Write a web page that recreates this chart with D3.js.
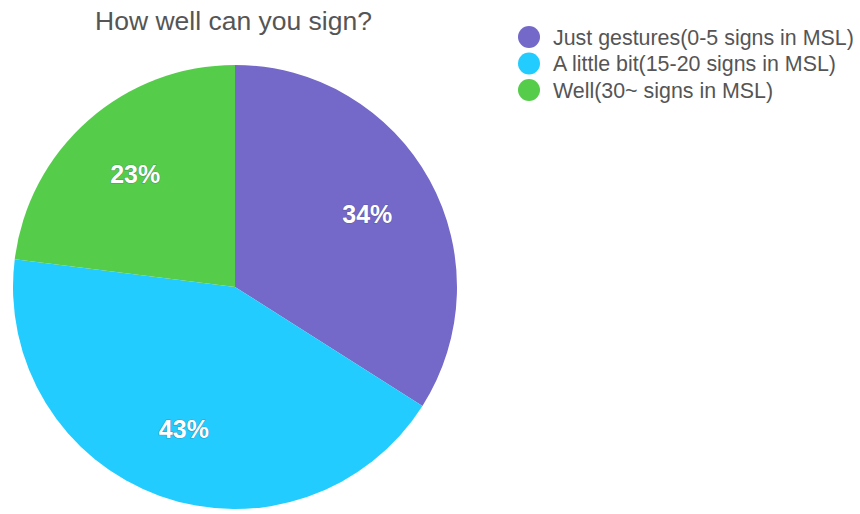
<!DOCTYPE html>
<html>
<head>
<meta charset="utf-8">
<script src="https://cdn.jsdelivr.net/npm/d3@7"></script>
<style>
  body { margin: 0; background: #fff; }
  text { font-family: "Liberation Sans", Arial, Helvetica, sans-serif; }
  .title { font-size: 26.5px; fill: #555; }
  .legend-label { font-size: 21.4px; fill: #555; }
  .slice-label { font-size: 25px; font-weight: bold; fill: #fff; text-anchor: middle; dominant-baseline: central;
    paint-order: stroke; stroke: rgba(60,60,90,0.35); stroke-width: 1.2px; }
</style>
</head>
<body>
<div id="chart"></div>
<script>
var categories = ["Just gestures(0-5 signs in MSL)", "A little bit(15-20 signs in MSL)", "Well(30~ signs in MSL)"];
var shares = [34, 43, 23];
var colors = ["#7469c9", "#22ccfe", "#55cd4b"];

var viewboxwidth = 860;
var viewboxheight = 514;
var cx = 235, cy = 287, radius = 222;

var svg = d3.select("#chart")
    .append("svg")
    .attr("width", viewboxwidth)
    .attr("height", viewboxheight);

svg.append("text")
    .attr("class", "title")
    .attr("x", 95)
    .attr("y", 30)
    .text("How well can you sign?");

var data = categories.map(function(c, i) { return {name: c, value: shares[i], color: colors[i]}; });

var pie = d3.pie()
    .sort(null)
    .value(function(d) { return d.value; });

var arc = d3.arc()
    .innerRadius(0)
    .outerRadius(radius);

var labelArc = d3.arc()
    .innerRadius(radius * 0.68)
    .outerRadius(radius * 0.68);

var g = svg.append("g")
    .attr("transform", "translate(" + cx + "," + cy + ")");

var slices = g.selectAll(".slice")
    .data(pie(data))
    .enter()
    .append("g")
    .attr("class", "slice");

slices.append("path")
    .attr("d", arc)
    .style("fill", function(d) { return d.data.color; });

slices.append("text")
    .attr("class", "slice-label")
    .attr("transform", function(d) { return "translate(" + labelArc.centroid(d) + ")"; })
    .text(function(d) { return d.data.value + "%"; });

// legend
var legend = svg.append("g")
    .attr("transform", "translate(529,37)");

var rows = legend.selectAll(".row")
    .data(data)
    .enter()
    .append("g")
    .attr("class", "row")
    .attr("transform", function(d, i) { return "translate(0," + (i * 26.5) + ")"; });

rows.append("circle")
    .attr("r", 11)
    .style("fill", function(d) { return d.color; });

rows.append("text")
    .attr("class", "legend-label")
    .attr("x", 24)
    .attr("y", 7.5)
    .text(function(d) { return d.name; });
</script>
</body>
</html>
